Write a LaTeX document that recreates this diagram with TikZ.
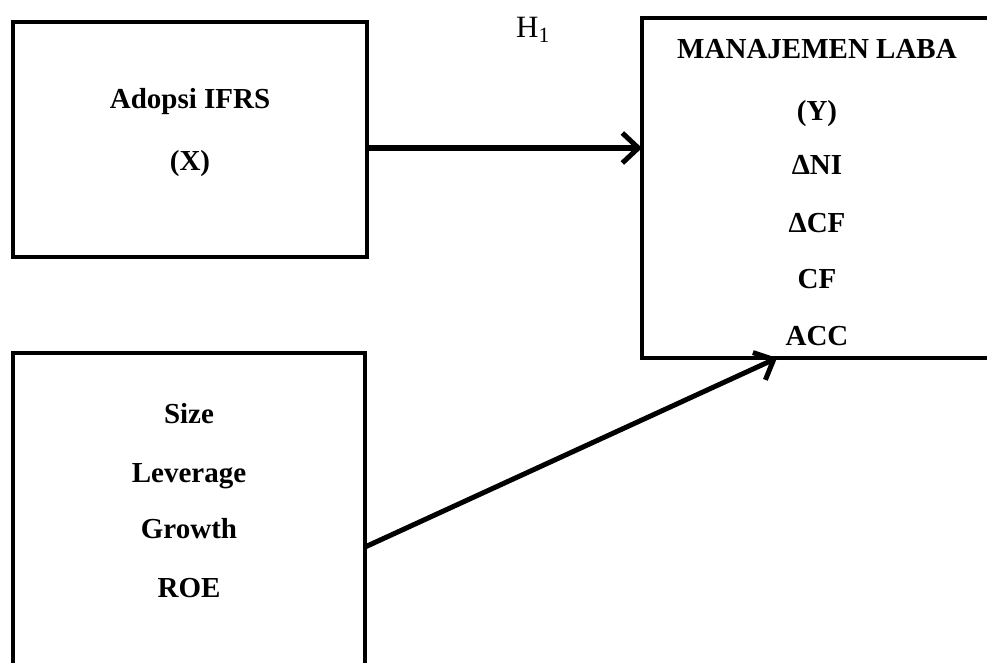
\documentclass[tikz,border=0pt]{standalone}
\usepackage{fontspec}
\setmainfont{Liberation Serif}
\usetikzlibrary{arrows.meta}
\begin{document}
\begin{tikzpicture}[x=1pt,y=-1pt,
  box/.style={draw=black, line width=4.5pt, rectangle, inner sep=0pt, outer sep=0pt},
  lbl/.style={anchor=base, inner sep=0pt, font=\fontsize{29}{34}\selectfont\bfseries},
  arr/.style={draw=black, line width=6pt, -{Straight Barb[length=16pt,width=30pt,line width=5pt]}},
]
\useasboundingbox (0,0) rectangle (987,662);
\clip (0,0) rectangle (987,662);
\fill[white] (0,0) rectangle (987,662);

% boxes
\node[box, minimum width=354pt, minimum height=235pt] (box1) at (190,139.5) {};
\node[box, minimum width=360pt, minimum height=340pt] (box2) at (822,188) {};
\node[box, minimum width=352pt, minimum height=330pt] (box3) at (189,518) {};

% box 1 texts
\node[lbl] (t1a) at (190,108) {Adopsi IFRS};
\node[lbl] (t1b) at (190,170) {(X)};

% box 2 texts
\node[lbl] (t2a) at (817,58) {MANAJEMEN LABA};
\node[lbl] (t2b) at (817,120) {(Y)};
\node[lbl] (t2c) at (817,174) {ΔNI};
\node[lbl] (t2d) at (817,232) {ΔCF};
\node[lbl] (t2e) at (817,288) {CF};
\node[lbl] (t2f) at (817,345) {ACC};

% box 3 texts
\node[lbl] (t3a) at (189,423) {Size};
\node[lbl] (t3b) at (189,482) {Leverage};
\node[lbl] (t3c) at (189,538) {Growth};
\node[lbl] (t3d) at (189,597) {ROE};

% H1 label
\node[anchor=base, inner sep=0pt, font=\fontsize{31}{36}\selectfont] (h1) at (533,37) {H\textsubscript{1}};

% connectors
\coordinate (a1) at (0,148);
\coordinate (a2s) at (0,547);
\coordinate (a2e) at (777,0);
\draw[arr] (box1.east |- a1) -- (box2.west |- a1);
\draw[arr, line width=5pt] (box3.east |- a2s) -- (a2e |- box2.south);
\end{tikzpicture}
\end{document}
